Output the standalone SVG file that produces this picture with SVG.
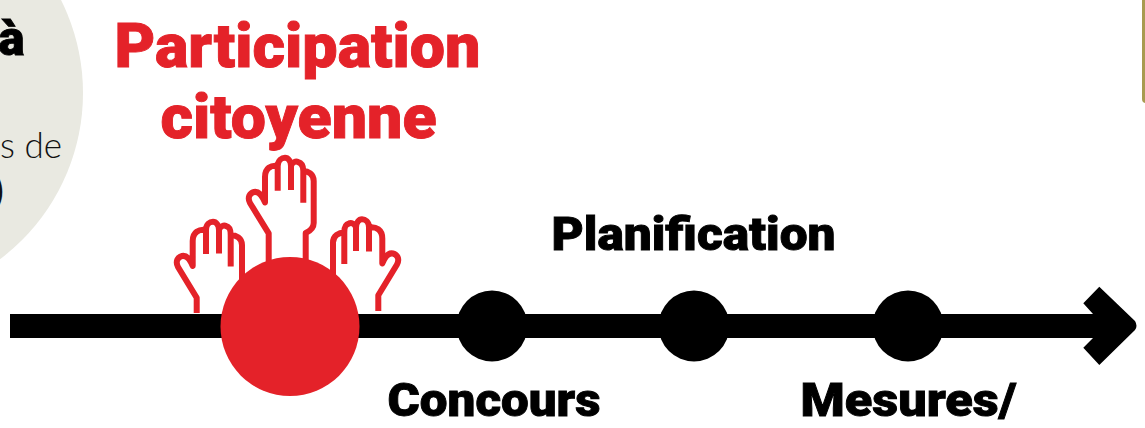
<svg xmlns="http://www.w3.org/2000/svg" width="1145" height="428" viewBox="0 0 1145 428">
<style>
.h{font-family:Roboto,"Liberation Sans",sans-serif;font-weight:900;stroke-width:.9;paint-order:stroke}
.k{stroke:#000}
.red{fill:#e42229;stroke:#e42229}
.blk{fill:#000}
.hand{fill:none;stroke:#e42229;stroke-width:6;stroke-linejoin:round}
</style>
<rect width="1145" height="428" fill="#fff"/>
<g id="bubble">
<circle cx="-125" cy="93" r="208" fill="#e9e9e1"/>
<text x="24.500" y="55" text-anchor="end" class="h k" font-size="49">à</text>
<text x="62" y="158" text-anchor="end" font-family="Lato,'Liberation Sans',sans-serif" font-size="35" font-weight="300" fill="#111">s de</text>
<text x="4" y="204" text-anchor="end" font-family="'Open Sans','Liberation Sans',sans-serif" font-size="44" font-weight="600" fill="#111">)</text>
</g>
<g id="panel"><rect x="1142" y="-20" width="20" height="123" rx="4" fill="#a89b50"/></g>
<g id="title">
<text x="114.500" y="67" class="h red" font-size="62" textLength="366" lengthAdjust="spacingAndGlyphs">Participation</text>
<text x="160.500" y="138" class="h red" font-size="62" textLength="276" lengthAdjust="spacingAndGlyphs">citoyenne</text>
</g>
<g id="hands">
<path class="hand" d="M268.7 262V233.3L250 203C247 197 250 193 254 192C259 191 262 195 265 202.5V177C265 168 271 165 277.7 166V190.7M277.7 166C278 160 282 157.7 285 157.7C288 157.7 291 161 291 166V190M291 166C292 162 296 161 298 162C302 163 303.3 166 303.3 171V202.7M303.3 171C308 171 313.7 174 313.7 181V223C313.7 228 310 231 305.7 233V262"/>
<path class="hand" d="M196.700 313V297.700L178 267C175 261 178 257 182 256C187 255 190 259 192.700 266V241C192.700 232 199 229 206 230V254M206 230C206 224 210 221.700 213 221.700C216 221.700 219 225 219 230V253.500M219 230C220 226 224 225 226 226C230 227 230.700 230 230.700 235V266.500M230.700 235C236 235 242 238 242 245V287"/>
<path class="hand" d="M378.300 311V295.200L397 264.500C400 258.500 397 254.500 393 253.500C388 252.500 385 256.500 382.300 263.500V238.500C382.300 229.500 376 226.500 369 227.500V251.500M369 227.500C369 221.500 365 219.200 362 219.200C359 219.200 356 222.500 356 227.500V251M356 227.500C355 223.500 351 222.500 349 223.500C345 224.500 344.300 227.500 344.300 232.500V264M344.300 232.500C339 232.500 333 235.500 333 242.500V284"/>
</g>
<g id="connectors">
<path class="blk" d="M10 314H1093L1083.300 303.300L1099.300 286.700L1135 321Q1138 326 1135 330L1099.300 365L1083.300 347.700L1093 338H10Z"/>
</g>
<g id="node-participation"><circle cx="290" cy="326.500" r="69.500" fill="#e42229"/></g>
<g id="node-concours">
<circle cx="492" cy="326" r="35.500" class="blk"/>
<text x="387.500" y="416" class="h k" font-size="47" textLength="213" lengthAdjust="spacingAndGlyphs">Concours</text>
</g>
<g id="node-planification">
<circle cx="694" cy="326" r="35.500" class="blk"/>
<text x="551.500" y="250" class="h k" font-size="47" textLength="284" lengthAdjust="spacingAndGlyphs">Planification</text>
</g>
<g id="node-mesures">
<circle cx="908" cy="326" r="35.500" class="blk"/>
<text x="800.500" y="416" class="h k" font-size="47" textLength="216" lengthAdjust="spacingAndGlyphs">Mesures/</text>
</g>
</svg>
